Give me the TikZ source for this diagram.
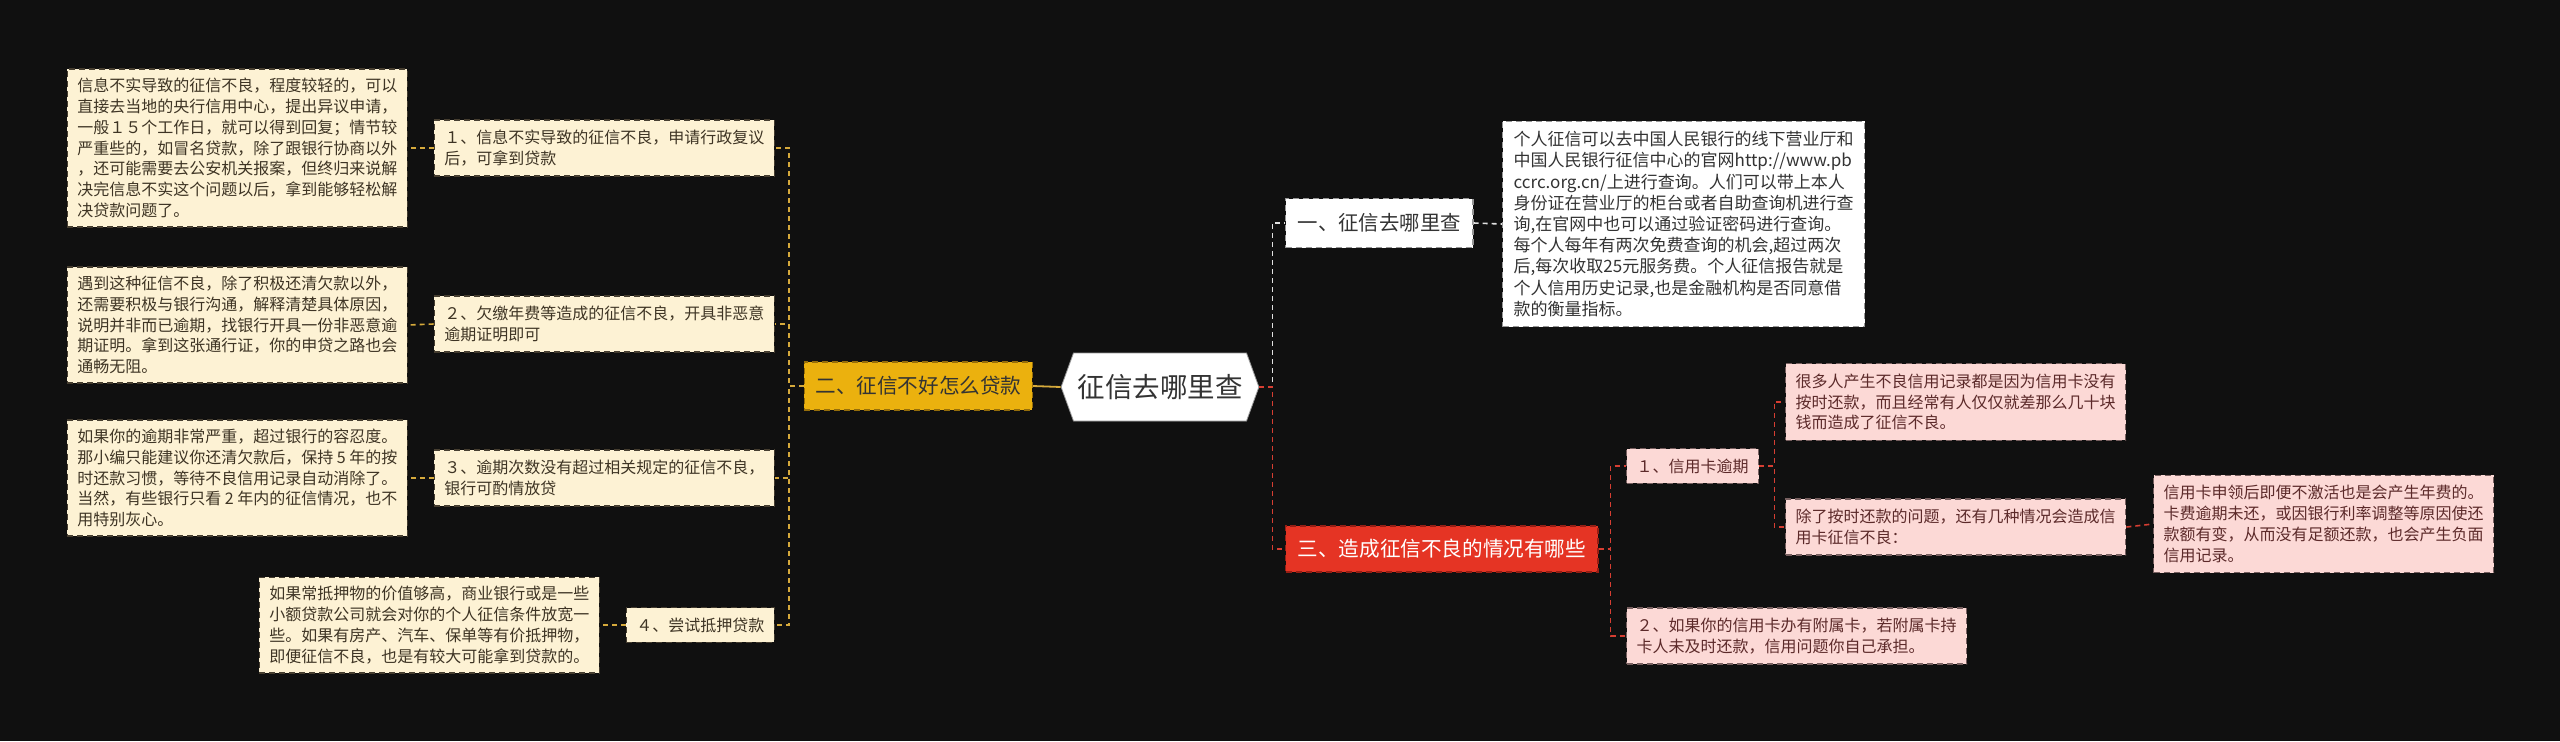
\documentclass[tikz,border=0pt]{standalone}
\usepackage{fontspec}
\setmainfont{Noto Sans CJK SC}
\usepackage{tikz}
\usetikzlibrary{shapes.symbols, positioning, calc}
\definecolor{bgdark}{RGB}{16,16,16}
\definecolor{ink}{RGB}{51,51,51}
\definecolor{cream}{RGB}{253,242,212}
\definecolor{creamedge}{RGB}{70,62,48}
\definecolor{creamtext}{RGB}{62,52,36}
\definecolor{gold}{RGB}{235,177,14}
\definecolor{goldedge}{RGB}{150,110,10}
\definecolor{goldline}{RGB}{214,170,60}
\definecolor{pinkfill}{RGB}{252,217,214}
\definecolor{pinkedge}{RGB}{120,96,96}
\definecolor{pinktext}{RGB}{92,42,42}
\definecolor{redfill}{RGB}{229,52,36}
\definecolor{rededge}{RGB}{150,30,20}
\definecolor{redline}{RGB}{214,62,50}
\definecolor{greyedge}{RGB}{150,150,150}
\definecolor{whiteline}{RGB}{225,225,225}
\tikzset{every node/.append style={align=left}}
\tikzset{
  root/.style={signal, signal to=east and west, signal pointer angle=140,
    fill=white, draw=greyedge, thin, minimum height=34pt, inner xsep=2pt,
    font=\fontsize{13.75}{16}\selectfont, text=ink},
  gbranch/.style={rectangle, fill=gold, draw=goldedge, densely dashed, line width=0.6pt,
    minimum height=24pt, inner xsep=5.5pt, font=\fontsize{10.3}{12}\selectfont, text=ink},
  rbranch/.style={rectangle, fill=redfill, draw=rededge, densely dashed, line width=0.6pt,
    minimum height=23pt, inner xsep=6pt, font=\fontsize{10.3}{12}\selectfont, text=white},
  wbranch/.style={rectangle, fill=white, draw=greyedge, densely dashed, line width=0.7pt,
    minimum height=24.5pt, inner xsep=6pt, font=\fontsize{10.2}{12}\selectfont, text=ink},
  gsub/.style={rectangle, fill=cream, draw=creamedge, densely dashed, line width=0.7pt,
    inner xsep=5pt, inner ysep=5pt, font=\fontsize{8}{10.4}\selectfont, text=creamtext},
  gleaf/.style={gsub, inner ysep=4.5pt},
  rsub/.style={rectangle, fill=pinkfill, draw=pinkedge, densely dashed, line width=0.7pt,
    inner xsep=5pt, inner ysep=5pt, font=\fontsize{8}{10.4}\selectfont, text=pinktext},
  wleaf/.style={rectangle, fill=white, draw=greyedge, densely dashed, line width=0.7pt,
    inner xsep=5.5pt, inner ysep=5pt, font=\fontsize{8.5}{10.6}\selectfont, text=ink},
  ycon/.style={draw=goldline, line width=0.8pt, dash pattern=on 2.5pt off 2pt},
  rcon/.style={draw=redline, line width=0.8pt, dash pattern=on 2.5pt off 2pt},
  wcon/.style={draw=whiteline, line width=0.8pt, dash pattern=on 2.5pt off 2pt}
}
\begin{document}
\begin{tikzpicture}[x=0.5pt, y=-0.5pt]
  \fill[bgdark] (0,0) rectangle (2560,741);
  \useasboundingbox (0,0) rectangle (2560,741);

  \node[root] (root) at (1160,387) {征信去哪里查};

  \node[gbranch, anchor=east] (loan) at (1033,386) {二、征信不好怎么贷款};
  \node[gsub, anchor=east] (g1) at (775,148) {１、信息不实导致的征信不良，申请行政复议\\后，可拿到贷款};
  \node[gsub, anchor=east] (g2) at (775,324) {２、欠缴年费等造成的征信不良，开具非恶意\\逾期证明即可};
  \node[gsub, anchor=east] (g3) at (775,478) {３、逾期次数没有超过相关规定的征信不良，\\银行可酌情放贷};
  \node[gsub, anchor=east] (g4) at (775,625) {４、尝试抵押贷款};
  \node[gleaf, anchor=east] (g1t) at (408,148) {信息不实导致的征信不良，程度较轻的，可以\\直接去当地的央行信用中心，提出异议申请，\\一般１５个工作日，就可以得到回复；情节较\\严重些的，如冒名贷款，除了跟银行协商以外\\，还可能需要去公安机关报案，但终归来说解\\决完信息不实这个问题以后，拿到能够轻松解\\决贷款问题了。};
  \node[gleaf, anchor=east] (g2t) at (408,325) {遇到这种征信不良，除了积极还清欠款以外，\\还需要积极与银行沟通，解释清楚具体原因，\\说明并非而已逾期，找银行开具一份非恶意逾\\期证明。拿到这张通行证，你的申贷之路也会\\通畅无阻。};
  \node[gleaf, anchor=east] (g3t) at (408,478) {如果你的逾期非常严重，超过银行的容忍度。\\那小编只能建议你还清欠款后，保持 5 年的按\\时还款习惯，等待不良信用记录自动消除了。\\当然，有些银行只看 2 年内的征信情况，也不\\用特别灰心。};
  \node[gleaf, anchor=east] (g4t) at (600,625) {如果常抵押物的价值够高，商业银行或是一些\\小额贷款公司就会对你的个人征信条件放宽一\\些。如果有房产、汽车、保单等有价抵押物，\\即便征信不良，也是有较大可能拿到贷款的。};

  \node[wbranch, anchor=west] (where) at (1285,223) {一、征信去哪里查};
  \node[wleaf, anchor=west] (wheret) at (1502,224) {个人征信可以去中国人民银行的线下营业厅和\\中国人民银行征信中心的官网http://www.pb\\ccrc.org.cn/上进行查询。人们可以带上本人\\身份证在营业厅的柜台或者自助查询机进行查\\询,在官网中也可以通过验证密码进行查询。\\每个人每年有两次免费查询的机会,超过两次\\后,每次收取25元服务费。个人征信报告就是\\个人信用历史记录,也是金融机构是否同意借\\款的衡量指标。};

  \node[rbranch, anchor=west] (cause) at (1285,549) {三、造成征信不良的情况有哪些};
  \node[rsub, anchor=west] (r1) at (1626,466) {１、信用卡逾期};
  \node[rsub, anchor=west] (r2) at (1626,636) {２、如果你的信用卡办有附属卡，若附属卡持\\卡人未及时还款，信用问题你自己承担。};
  \node[rsub, anchor=west] (r1a) at (1785,402) {很多人产生不良信用记录都是因为信用卡没有\\按时还款，而且经常有人仅仅就差那么几十块\\钱而造成了征信不良。};
  \node[rsub, anchor=west] (r1b) at (1785,527) {除了按时还款的问题，还有几种情况会造成信\\用卡征信不良：};
  \node[rsub, anchor=west] (r1bt) at (2153,524) {信用卡申领后即便不激活也是会产生年费的。\\卡费逾期未还，或因银行利率调整等原因使还\\款额有变，从而没有足额还款，也会产生负面\\信用记录。};

  \draw[goldline, line width=0.9pt] (root.west) -- (loan.east);
  \draw[ycon] (loan.west) -- ++(-15,0) |- (g1.east);
  \draw[ycon] (loan.west) -- ++(-15,0) |- (g2.east);
  \draw[ycon] (loan.west) -- ++(-15,0) |- (g3.east);
  \draw[ycon] (loan.west) -- ++(-15,0) |- (g4.east);
  \draw[ycon] (g1.west) -- (g1t.east);
  \draw[ycon] (g2.west) -- (g2t.east);
  \draw[ycon] (g3.west) -- (g3t.east);
  \draw[ycon] (g4.west) -- (g4t.east);

  \draw[wcon] (root.east) -- ++(13,0) |- (where.west);
  \draw[wcon] (where.east) -- (wheret.west);
  \draw[rcon] (root.east) -- ++(13,0) |- (cause.west);
  \draw[rcon] (cause.west -| cause.east) -- ++(12,0) |- (r1.west);
  \draw[rcon] (cause.west -| cause.east) -- ++(12,0) |- (r2.west);
  \draw[rcon] (r1.east) -- ++(15,0) |- (r1a.west);
  \draw[rcon] (r1.east) -- ++(15,0) |- (r1b.west);
  \draw[rcon] (r1b.east) -- (r1bt.west);
\end{tikzpicture}
\end{document}
